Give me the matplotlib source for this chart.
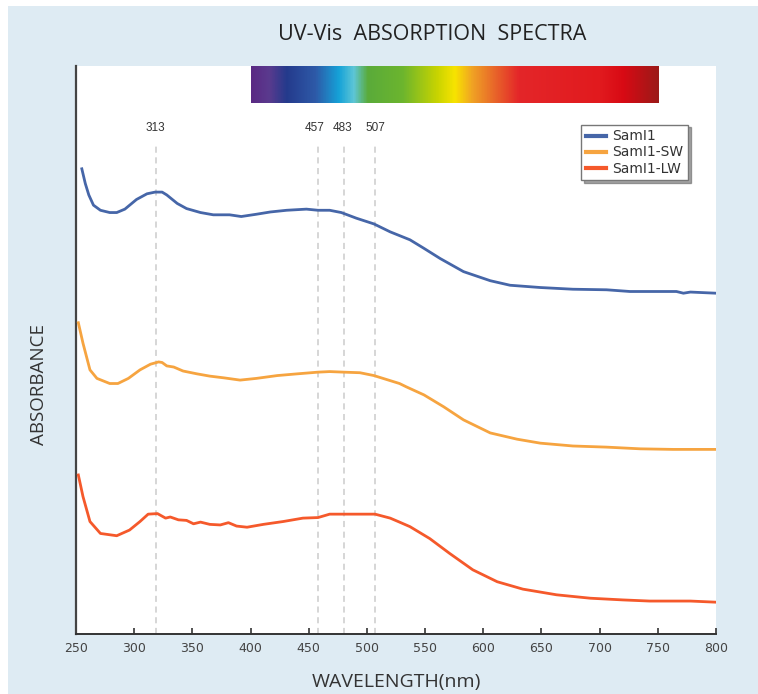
import numpy as np
import matplotlib
matplotlib.use("Agg")
import matplotlib.pyplot as plt
from matplotlib.colors import LinearSegmentedColormap
from matplotlib.patches import Rectangle

# wavelengths (nm) and absorbance (a.u., offset traces)
wl_sam = [255, 258, 261, 265, 271, 279, 285, 292, 302, 311, 318, 324, 328, 337, 345,
          357, 368, 382, 392, 405, 417, 431, 448, 458, 468, 478, 491, 506, 520, 537,
          549, 563, 583, 606, 623, 649, 677, 706, 726, 766, 772, 778, 800]
abs_sam = [0.819, 0.793, 0.773, 0.755, 0.746, 0.742, 0.742, 0.748, 0.765, 0.775, 0.778,
           0.778, 0.773, 0.758, 0.749, 0.742, 0.738, 0.738, 0.735, 0.739, 0.743, 0.746,
           0.748, 0.746, 0.746, 0.742, 0.732, 0.722, 0.708, 0.694, 0.679, 0.661, 0.638,
           0.622, 0.614, 0.610, 0.607, 0.606, 0.603, 0.603, 0.600, 0.602, 0.600]

wl_sw = [252, 256, 262, 268, 279, 286, 295, 305, 314, 321, 324, 328, 334, 342, 354,
         365, 377, 391, 405, 423, 440, 458, 468, 480, 494, 506, 517, 528, 534, 549,
         566, 583, 606, 629, 649, 677, 706, 735, 763, 800]
abs_sw = [0.548, 0.512, 0.465, 0.450, 0.441, 0.441, 0.450, 0.465, 0.475, 0.479, 0.478,
          0.472, 0.470, 0.463, 0.458, 0.454, 0.451, 0.447, 0.450, 0.455, 0.458, 0.461,
          0.462, 0.461, 0.460, 0.455, 0.448, 0.441, 0.435, 0.421, 0.400, 0.377, 0.354,
          0.343, 0.336, 0.331, 0.329, 0.326, 0.325, 0.325]

wl_lw = [252, 256, 262, 271, 285, 296, 305, 312, 320, 327, 331, 338, 345, 351, 357,
         365, 374, 381, 388, 397, 411, 428, 445, 458, 468, 480, 507, 520, 528, 537,
         554, 571, 591, 612, 634, 663, 692, 720, 743, 778, 800]
abs_lw = [0.280, 0.242, 0.198, 0.177, 0.173, 0.183, 0.198, 0.211, 0.212, 0.204, 0.206,
          0.201, 0.200, 0.194, 0.197, 0.193, 0.192, 0.196, 0.190, 0.188, 0.193, 0.198,
          0.204, 0.205, 0.211, 0.211, 0.211, 0.204, 0.197, 0.189, 0.168, 0.142, 0.113,
          0.092, 0.079, 0.069, 0.063, 0.060, 0.058, 0.058, 0.056]

series_names = ["SamI1", "SamI1-SW", "SamI1-LW"]
series_colors = ["#4666a8", "#f6a440", "#f5592b"]

# peak markers: where the dashed lines sit, and what they are labelled
peak_pos = [319, 458, 480, 507]
peak_labels = ["313", "457", "483", "507"]
label_pos = [318, 455, 479, 507]

# visible spectrum strip
spec_nm = [400, 415, 430, 455, 475, 488, 500, 530, 560, 575, 590, 610, 630, 700, 720, 750]
spec_col = ["#5a2a84", "#5a3a8e", "#243a8c", "#2e5aa8", "#15a2d8", "#5ec6d6", "#5aab3a",
            "#6cb52e", "#c9d400", "#f8e400", "#f0a224", "#e8632a", "#e42629", "#e11a1e",
            "#d80a14", "#9c1a18"]

fig = plt.figure(figsize=(7.58, 6.94), dpi=100, facecolor="white")
fig.patches.append(Rectangle((8 / 758, 0), 1, 688 / 694, transform=fig.transFigure,
                             facecolor="#deebf3", edgecolor="none", zorder=-10))

ax = fig.add_axes([76 / 758, 60 / 694, 640 / 758, 568 / 694])
ax.set_facecolor("white")

for wl, ab, name, col in zip([wl_sam, wl_sw, wl_lw], [abs_sam, abs_sw, abs_lw],
                             series_names, series_colors):
    ax.plot(wl, ab, color=col, lw=2.0, label=name, zorder=3)

for p, lp, lab in zip(peak_pos, label_pos, peak_labels):
    ax.plot([p, p], [0, 0.862], color="#cccccc", lw=1.1, ls=(0, (4, 3)), zorder=1)
    ax.text(lp, 0.880, lab, ha="center", va="bottom", fontsize=8.5,
            family="Liberation Sans", color="#333333")

# spectrum bar
span = spec_nm[-1] - spec_nm[0]
cmap = LinearSegmentedColormap.from_list(
    "vis", [((n - spec_nm[0]) / span, c) for n, c in zip(spec_nm, spec_col)])
ax.imshow(np.linspace(0, 1, 512)[None, :], cmap=cmap, aspect="auto",
          extent=(spec_nm[0], spec_nm[-1], 0.934, 1.0), zorder=2)

ax.set_xlim(250, 800)
ax.set_ylim(0, 1)
ax.set_xticks(np.arange(250, 801, 50))
ax.set_yticks([])
ax.tick_params(axis="x", direction="in", length=4, width=1.2, color="#333333",
               labelsize=9, labelcolor="#444444", pad=6)
for s in ["top", "right"]:
    ax.spines[s].set_visible(False)
ax.spines["left"].set_color("#444444")
ax.spines["left"].set_linewidth(1.6)
ax.spines["bottom"].set_color("#333333")
ax.spines["bottom"].set_linewidth(1.4)

ax.set_xlabel("WAVELENGTH(nm)", fontsize=14, family="Open Sans", color="#333333",
              labelpad=13)
ax.set_ylabel("ABSORBANCE", fontsize=13.5, family="Open Sans", color="#333333")
ax.yaxis.set_label_coords(-0.043, 0.44)
fig.text(432 / 758, 1 - 35 / 694, "UV-Vis  ABSORPTION  SPECTRA", ha="center",
         va="center", fontsize=15.5, family="Open Sans", color="#222222")

leg = ax.legend(loc="upper right", bbox_to_anchor=(0.956, 0.897),
                prop={"family": "DejaVu Sans", "size": 10},
                frameon=True, fancybox=False, shadow=True, edgecolor="#777777",
                handlelength=1.4, handletextpad=0.45, borderpad=0.35,
                labelspacing=0.15, borderaxespad=0)
leg.get_frame().set_linewidth(1.0)
for line in leg.get_lines():
    line.set_linewidth(3.0)
for t in leg.get_texts():
    t.set_color("#333333")

fig.savefig("out.png", dpi=100, facecolor=fig.get_facecolor())
